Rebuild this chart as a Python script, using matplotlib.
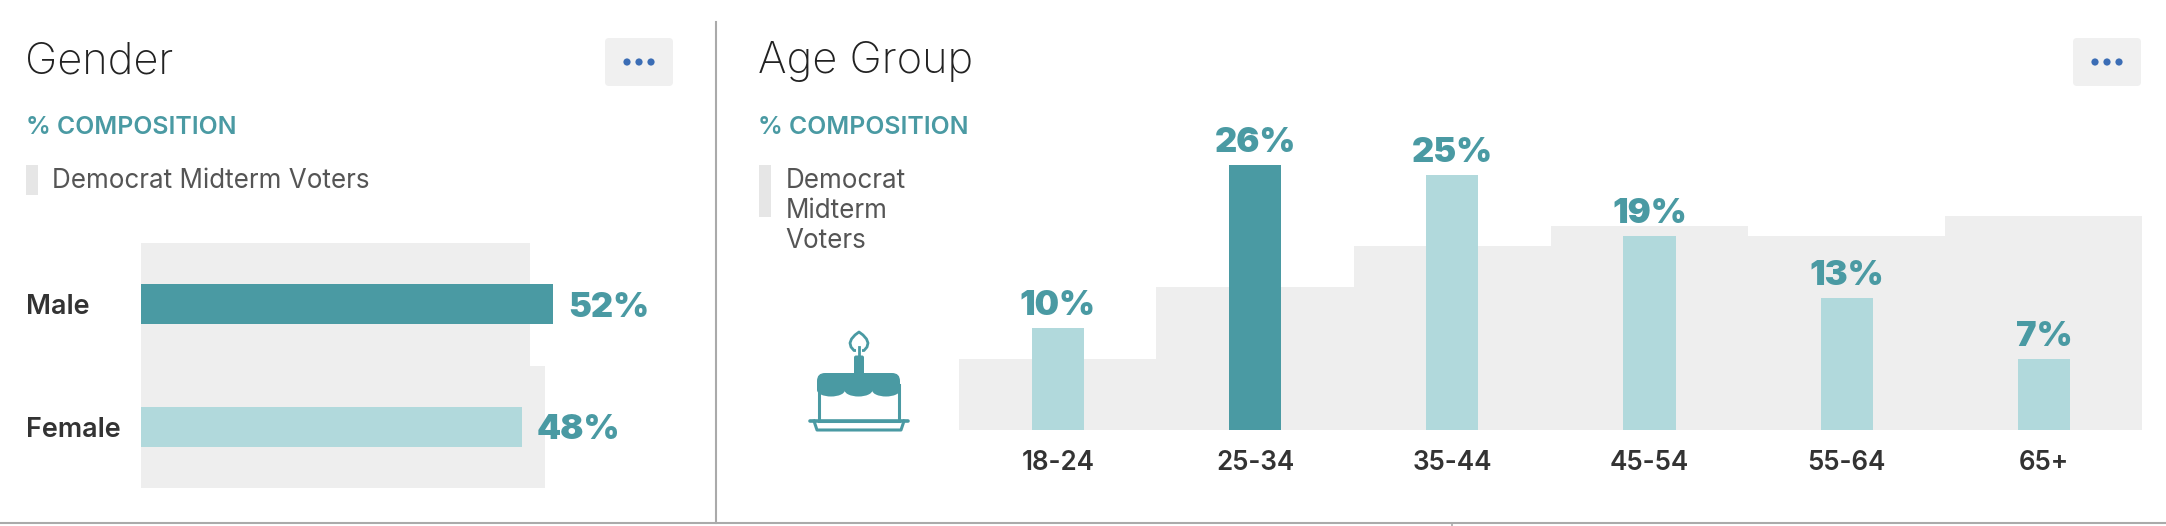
import matplotlib
matplotlib.use('Agg')
import matplotlib.pyplot as plt
from matplotlib.patches import Rectangle, FancyBboxPatch, Polygon, Circle, Ellipse

plt.rcParams['font.family'] = ['Inter', 'Open Sans', 'DejaVu Sans']

# ============================================================
# DATA
# ============================================================

gender_cats = ['Male', 'Female']
gender_vals = [52, 48]
gender_base = [49, 51]

age_cats = ['18-24', '25-34', '35-44', '45-54', '55-64', '65+']
age_vals = [10, 26, 25, 19, 13, 7]
age_base = [7, 14, 18, 20, 19, 21]

# ============================================================
# STYLE
# ============================================================

W, H = 2166, 526
PT = 0.72  # points per pixel at dpi 100

TEAL = '#4a9aa3'
LIGHT = '#b1d9dc'
BASE = '#eeeeee'
DARK = '#333333'

fig = plt.figure(figsize=(W / 100, H / 100), dpi=100, facecolor='white')


def axes_px(x0, y0, x1, y1, **kw):
    # axes from pixel box, y measured from the top of the picture
    return fig.add_axes([x0 / W, 1 - y1 / H, (x1 - x0) / W, (y1 - y0) / H], **kw)


# overlay in picture pixels for titles, buttons and the icon
bg = axes_px(0, 0, W, H)
bg.set_xlim(0, W)
bg.set_ylim(H, 0)
bg.axis('off')

# ============================================================
# GENDER PANEL
# ============================================================

ax1 = axes_px(141, 243, 141 + 7.93 * 60, 488.3)
ax1.patch.set_alpha(0)
ax1.set_xlim(0, 60)
ax1.set_ylim(1.5, -0.5)
ax1.barh(range(2), gender_base, height=1.0, color=BASE)
ax1.barh(range(2), gender_vals, height=0.326, color=[TEAL, LIGHT])
for i, v in enumerate(gender_vals):
    ax1.annotate(f'{v}%', xy=(v, i), xytext=(15 * PT, 0), textcoords='offset points',
                 ha='left', va='center_baseline', color=TEAL, fontsize=34.5 * PT, fontweight=900)
ax1.set_xticks([])
ax1.set_yticks(range(2), gender_cats)
ax1.tick_params(axis='y', length=0, pad=115 * PT)
for lab in ax1.get_yticklabels():
    lab.set_ha('left')
    lab.set_fontsize(27 * PT)
    lab.set_fontweight('semibold')
    lab.set_color(DARK)
for s in ax1.spines.values():
    s.set_visible(False)

# ============================================================
# AGE PANEL
# ============================================================

ax2 = axes_px(959.3, 130, 959.3 + 197.2 * 6, 430.2)
ax2.patch.set_alpha(0)
ax2.set_xlim(-0.5, 5.5)
ax2.set_ylim(0, 300 / 10.2)
ax2.bar(range(6), age_base, width=1.0, color=BASE)
ax2.bar(range(6), age_vals, width=0.265, color=[LIGHT, TEAL, LIGHT, LIGHT, LIGHT, LIGHT])
for i, v in enumerate(age_vals):
    ax2.annotate(f'{v}%', xy=(i, v), xytext=(0, 13 * PT), textcoords='offset points',
                 ha='center', va='baseline', color=TEAL, fontsize=34.5 * PT, fontweight=900)
ax2.set_yticks([])
ax2.set_xticks(range(6), age_cats)
ax2.tick_params(axis='x', length=0, pad=20 * PT)
for lab in ax2.get_xticklabels():
    lab.set_fontsize(26 * PT)
    lab.set_fontweight('semibold')
    lab.set_color(DARK)
for s in ax2.spines.values():
    s.set_visible(False)

# ============================================================
# TITLES, LEGENDS, BUTTONS
# ============================================================

for x, title in [(25.5, 'Gender'), (757.5, 'Age Group')]:
    bg.text(x, 73, title, fontsize=43.5 * PT, fontweight='light', color='#222222', va='baseline')
    bg.text(x + 0.5, 134.5, '% COMPOSITION', fontsize=24.8 * PT, fontweight='semibold', color=TEAL, va='baseline')

bg.add_patch(Rectangle((26.2, 165), 12, 29.6, color='#e6e6e6', lw=0))
bg.text(51.5, 181, 'Democrat Midterm Voters', fontsize=26 * PT, color='#555555', va='center')

bg.add_patch(Rectangle((759, 165), 12, 52, color='#e6e6e6', lw=0))
for y, line in zip([181, 210.5, 241], ['Democrat', 'Midterm', 'Voters']):
    bg.text(785.5, y, line, fontsize=26 * PT, color='#555555', va='center')

for x0 in [605, 2073]:
    bg.add_patch(FancyBboxPatch((x0 + 4, 42), 60, 40, boxstyle='round,pad=4,rounding_size=4',
                                fc='#f0f0f0', ec='none'))
    for dx in [22, 34, 46]:
        bg.add_patch(Circle((x0 + dx, 62), 3.6, fc='#3b6db5', ec='none'))

# divider and bottom rule
bg.plot([715.5, 715.5], [22, 523], color='#aaaaaa', lw=1.5)
bg.plot([0, W], [523, 523], color='#aaaaaa', lw=1.5)
bg.plot([1451.5, 1451.5], [523, 526], color='#aaaaaa', lw=1.2)

# ============================================================
# CAKE ICON
# ============================================================

# candle, wick, flame
bg.add_patch(FancyBboxPatch((855.5, 357), 7, 18, boxstyle='round,pad=1.5,rounding_size=2', fc=TEAL, ec='none'))
flame = [(859, 332), (863, 335), (866.5, 339), (868, 343), (867, 347), (864, 350.5),
         (854, 350.5), (851, 347), (850, 343), (851.5, 339), (855, 335)]
bg.add_patch(Polygon(flame, closed=True, fc='white', ec=TEAL, lw=2, joinstyle='round'))
bg.add_patch(Rectangle((856, 349), 6, 3, fc='white', ec='none'))
bg.plot([859, 859], [347, 357], color=TEAL, lw=2)

# body
bg.add_patch(Rectangle((818.5, 385), 80.5, 36, fc='white', ec=TEAL, lw=2.2))
# icing with scalloped edge
bg.add_patch(FancyBboxPatch((825, 381), 67, 1, boxstyle='round,pad=8,rounding_size=8', fc=TEAL, ec='none'))
bg.add_patch(Rectangle((817, 381), 83, 9, fc=TEAL, ec='none'))
for cx in [831, 858.5, 886]:
    bg.add_patch(Ellipse((cx, 390), 28, 13, fc=TEAL, ec='none'))

# plate
bg.plot([810, 908], [421, 421], color=TEAL, lw=2.6, solid_capstyle='round')
bg.plot([814, 817, 901, 904], [421, 430, 430, 421], color=TEAL, lw=2.2, solid_joinstyle='round')

fig.savefig('out.png', dpi=100)
